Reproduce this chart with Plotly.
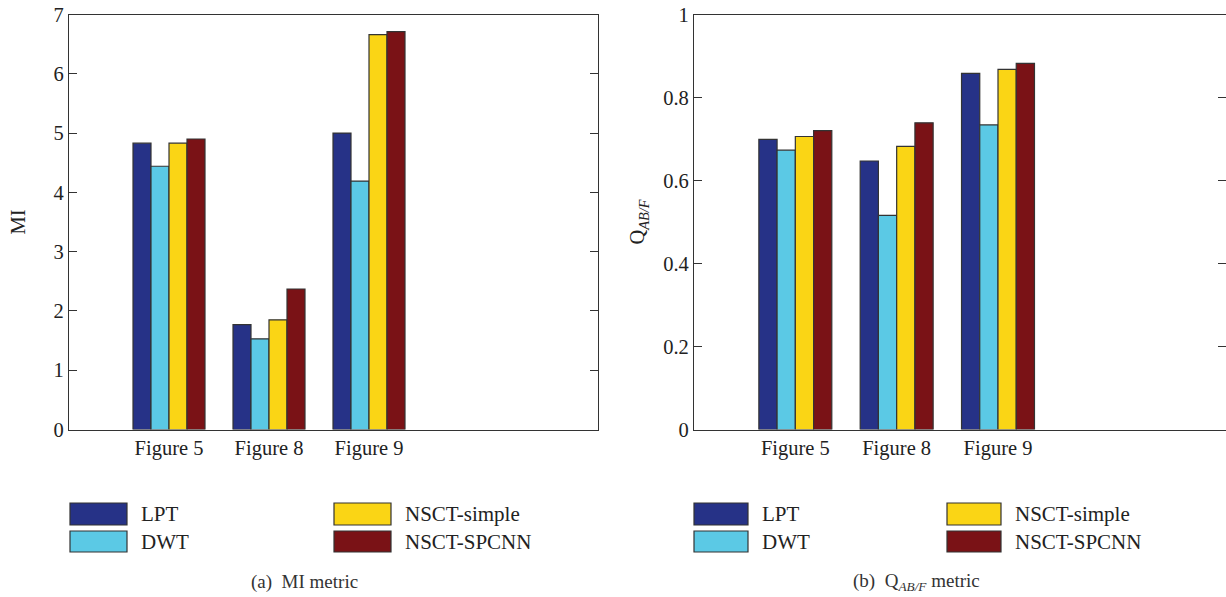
import plotly.graph_objects as go

# ---- data ----
categories = ["Figure 5", "Figure 8", "Figure 9"]
cat_pos = [1, 2, 3]
methods = ["LPT", "DWT", "NSCT-simple", "NSCT-SPCNN"]
colors = ["#263287", "#5BC9E5", "#FAD515", "#7A1216"]

mi_lpt = [4.83, 1.77, 5.00]
mi_dwt = [4.44, 1.53, 4.19]
mi_simple = [4.83, 1.85, 6.66]
mi_spcnn = [4.90, 2.37, 6.71]

q_lpt = [0.699, 0.647, 0.858]
q_dwt = [0.673, 0.516, 0.734]
q_simple = [0.706, 0.682, 0.868]
q_spcnn = [0.720, 0.739, 0.882]

mi_ticks = [0, 1, 2, 3, 4, 5, 6, 7]
q_ticks = [0, 0.2, 0.4, 0.6, 0.8, 1]
q_ticklabels = ["0", "0.2", "0.4", "0.6", "0.8", "1"]

mi_series = [mi_lpt, mi_dwt, mi_simple, mi_spcnn]
q_series = [q_lpt, q_dwt, q_simple, q_spcnn]

W, H = 1226, 597
FONT = "Liberation Serif"
AXC = "#333333"


def px(x):
    return x / W


def py(y):
    return 1 - y / H


fig = go.Figure()
for name, col, vals in zip(methods, colors, mi_series):
    fig.add_trace(go.Bar(x=cat_pos, y=vals, name=name, marker=dict(color=col, line=dict(color="#333333", width=1.2)),
                         xaxis="x", yaxis="y", showlegend=False))
for name, col, vals in zip(methods, colors, q_series):
    fig.add_trace(go.Bar(x=cat_pos, y=vals, name=name, marker=dict(color=col, line=dict(color="#333333", width=1.2)),
                         xaxis="x2", yaxis="y2", showlegend=False))

ydom = [py(429.5), py(14.5)]
common_x = dict(tickmode="array", tickvals=cat_pos, ticktext=categories, ticks="", showline=True,
                linecolor=AXC, linewidth=1.3, mirror=True, showgrid=False, zeroline=False,
                tickfont=dict(family=FONT, size=20.5, color="#222"))
common_y = dict(ticks="inside", ticklen=8, tickcolor=AXC, showline=True, linecolor=AXC, linewidth=1.3,
                mirror="allticks", showgrid=False, zeroline=False, automargin=False,
                tickfont=dict(family=FONT, size=20.5, color="#222"))

fig.update_layout(
    width=W, height=H, margin=dict(l=0, r=0, t=0, b=0),
    paper_bgcolor="white", plot_bgcolor="white",
    barmode="group", bargap=0.28, bargroupgap=0,
    font=dict(family=FONT, size=20, color="#222"),
    xaxis=dict(domain=[px(69), px(598)], range=[0, 5.29], anchor="y", **common_x),
    yaxis=dict(domain=ydom, range=[0, 7], tickvals=mi_ticks, anchor="x",
               title=dict(text="MI", standoff=22, font=dict(family=FONT, size=20.5)), **common_y),
    xaxis2=dict(domain=[px(694), 1.0], range=[0, 5.25], anchor="y2", **common_x),
    yaxis2=dict(domain=ydom, range=[0, 1], tickvals=q_ticks, ticktext=q_ticklabels, anchor="x2",
                title=dict(text="Q<sub><i>AB/F</i></sub>", standoff=12, font=dict(family=FONT, size=20.5)),
                **common_y),
)

# ---- custom legends (boxes + labels) and captions ----
shapes = []
annotations = []
legend_specs = [
    (dict(col_x=[70, 334], box_w=57, txt_dx=69)),
    (dict(col_x=[694, 947], box_w=54, txt_dx=66)),
]
rows_y = [(503, 525), (531, 552)]
layout_pos = [(0, 0), (0, 1), (1, 0), (1, 1)]
for spec in legend_specs:
    for (c, r), name, col in zip(layout_pos, methods, colors):
        x0 = spec["col_x"][c]
        y0, y1 = rows_y[r]
        shapes.append(dict(type="rect", xref="paper", yref="paper", x0=px(x0), x1=px(x0 + spec["box_w"]),
                           y0=py(y1), y1=py(y0), fillcolor=col, line=dict(color="#333333", width=1.2)))
        annotations.append(dict(xref="paper", yref="paper", x=px(x0 + spec["txt_dx"]), y=py((y0 + y1) / 2),
                                text=name, showarrow=False, xanchor="left", yanchor="middle",
                                font=dict(family=FONT, size=21, color="#222")))

annotations.append(dict(xref="paper", yref="paper", x=px(304), y=py(582), text="(a)&nbsp; MI metric",
                        showarrow=False, xanchor="center", yanchor="middle",
                        font=dict(family=FONT, size=19, color="#333")))
annotations.append(dict(xref="paper", yref="paper", x=px(916), y=py(582),
                        text="(b)&nbsp; Q<sub><i>AB/F</i></sub> metric",
                        showarrow=False, xanchor="center", yanchor="middle",
                        font=dict(family=FONT, size=19, color="#333")))

fig.update_layout(shapes=shapes, annotations=annotations)
fig.write_html("out.html", config={"displayModeBar": False})

# remove the default page margin so the figure sits at the window's top-left corner
with open("out.html", "r", encoding="utf-8") as f:
    html = f.read()
html = html.replace("<body>", '<body style="margin:0;padding:0;overflow:hidden">', 1)
with open("out.html", "w", encoding="utf-8") as f:
    f.write(html)
